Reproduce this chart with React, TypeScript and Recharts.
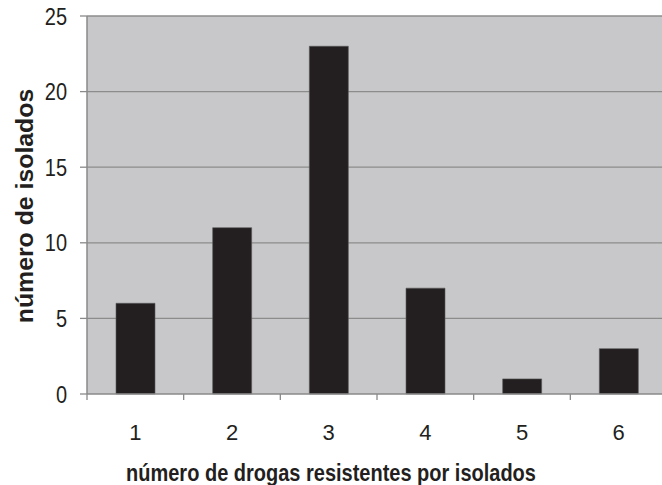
import React from 'react';
import { BarChart, Bar, XAxis, YAxis, CartesianGrid } from 'recharts';

const categories = ['1', '2', '3', '4', '5', '6'];
const isolados = [6, 11, 23, 7, 1, 3];
const yTicks = [0, 5, 10, 15, 20, 25];
const xTitle = 'número de drogas resistentes por isolados';
const yTitle = 'número de isolados';

const data = categories.map((c, i) => ({ cat: c, v: isolados[i] }));

const TEXT = '#231f20';
const FONT = '"Liberation Sans", Arial, sans-serif';
const X_TICK_MARGIN = 30;

const XTick = (props: any) => {
  const { x, y, payload } = props;
  const axisY = y - X_TICK_MARGIN;
  const bx = x - (payload.offset || 0);
  return (
    <g>
      <line x1={bx} y1={axisY} x2={bx} y2={axisY + 6} stroke="#8a8a8a" strokeWidth={1.3} />
      <text x={x} y={y} dy="0.71em" textAnchor="middle" fill={TEXT} fontSize={22} fontFamily={FONT}>
        {payload.value}
      </text>
    </g>
  );
};

const YTick = (props: any) => {
  const { x, y, payload } = props;
  return (
    <g transform={`translate(${x},${y}) scale(1,1.2)`}>
      <text x={0} y={0} dy="0.355em" textAnchor="end" fill={TEXT} fontSize={20} fontFamily={FONT}>
        {payload.value}
      </text>
    </g>
  );
};

const YTitle = (props: any) => {
  const vb = props.viewBox || {};
  const bx = vb.x + 33;
  const cy = vb.y + vb.height / 2 + 1;
  return (
    <g transform={`translate(${bx},${cy}) rotate(-90) scale(1.08,1)`}>
      <text x={0} y={0} textAnchor="middle" fill={TEXT} fontSize={23} fontWeight="bold" fontFamily={FONT}>
        {yTitle}
      </text>
    </g>
  );
};

const XTitle = (props: any) => {
  const vb = props.viewBox || {};
  const cx = 331;
  const by = vb.y + vb.height - 4;
  return (
    <g transform={`translate(${cx},${by}) scale(1,1.2)`}>
      <text x={0} y={0} textAnchor="middle" fill={TEXT} fontSize={20} fontWeight="bold" fontFamily={FONT}>
        {xTitle}
      </text>
    </g>
  );
};

export default function App() {
  return (
    <div style={{ position: 'absolute', left: 0, top: 0, width: 662, height: 485, overflow: 'hidden', background: '#fff' }}>
      <BarChart width={667} height={485} data={data} margin={{ top: 16, right: 0, left: 0, bottom: 0 }} barCategoryGap="30%">
        <CartesianGrid vertical={false} fill="#c8c8ca" stroke="#8c8c8c" strokeWidth={1.3}
          horizontalValues={[5, 10, 15, 20, 25]} />
        <XAxis dataKey="cat" height={91} tickLine={false} tickSize={0} tickMargin={X_TICK_MARGIN}
          axisLine={{ stroke: '#8a8a8a', strokeWidth: 1.5 }} tick={<XTick />} interval={0}
          label={<XTitle />} />
        <YAxis width={87} domain={[0, 25]} ticks={yTicks} interval={0} tickSize={7} tickMargin={13}
          axisLine={{ stroke: '#8a8a8a', strokeWidth: 1.5 }} tickLine={{ stroke: '#8a8a8a', strokeWidth: 1.3 }}
          tick={<YTick />} label={<YTitle />} />
        <Bar dataKey="v" fill="#231f20" stroke="#5a5a5a" strokeWidth={0.6} isAnimationActive={false} />
      </BarChart>
    </div>
  );
}
